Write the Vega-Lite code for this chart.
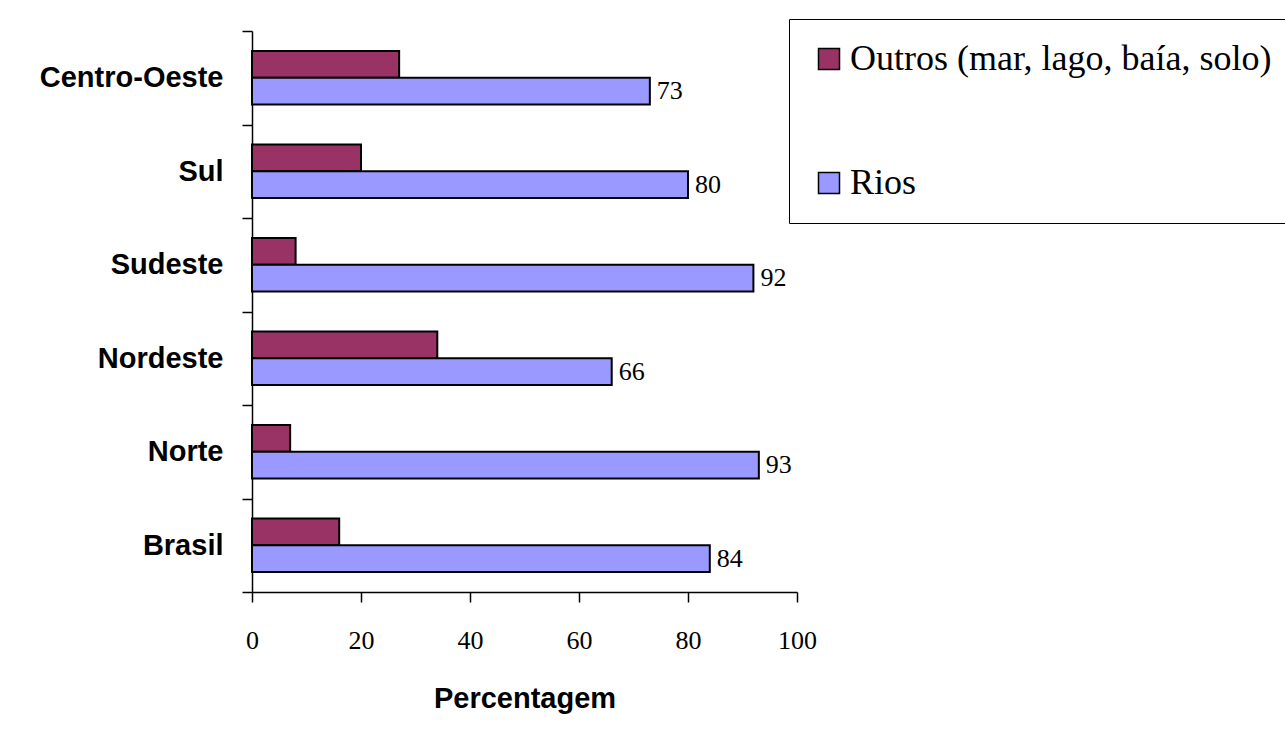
{
  "$schema": "https://vega.github.io/schema/vega-lite/v6.json",
  "width": 545,
  "height": 561,
  "autosize": "none",
  "padding": {"left": 252, "top": 31, "right": 488, "bottom": 146},
  "background": "white",
  "config": {"view": {"stroke": null}, "font": "Liberation Sans"},
  "data": {
    "values": [
      {"regiao": "Centro-Oeste", "fonte": "Outros (mar, lago, baía, solo)", "pct": 27},
      {"regiao": "Centro-Oeste", "fonte": "Rios", "pct": 73},
      {"regiao": "Sul", "fonte": "Outros (mar, lago, baía, solo)", "pct": 20},
      {"regiao": "Sul", "fonte": "Rios", "pct": 80},
      {"regiao": "Sudeste", "fonte": "Outros (mar, lago, baía, solo)", "pct": 8},
      {"regiao": "Sudeste", "fonte": "Rios", "pct": 92},
      {"regiao": "Nordeste", "fonte": "Outros (mar, lago, baía, solo)", "pct": 34},
      {"regiao": "Nordeste", "fonte": "Rios", "pct": 66},
      {"regiao": "Norte", "fonte": "Outros (mar, lago, baía, solo)", "pct": 7},
      {"regiao": "Norte", "fonte": "Rios", "pct": 93},
      {"regiao": "Brasil", "fonte": "Outros (mar, lago, baía, solo)", "pct": 16},
      {"regiao": "Brasil", "fonte": "Rios", "pct": 84}
    ]
  },
  "encoding": {
    "y": {
      "field": "regiao",
      "type": "nominal",
      "sort": ["Centro-Oeste", "Sul", "Sudeste", "Nordeste", "Norte", "Brasil"],
      "scale": {"paddingInner": 0, "paddingOuter": 0},
      "axis": {
        "title": null,
        "tickBand": "extent",
        "tickSize": 10,
        "tickColor": "black",
        "tickWidth": 1.5,
        "domainColor": "black",
        "domainWidth": 1.5,
        "labelFont": "Liberation Sans",
        "labelFontWeight": "bold",
        "labelFontSize": 29,
        "labelColor": "black",
        "labelPadding": 19,
        "labelLimit": 400
      }
    },
    "yOffset": {
      "field": "fonte",
      "type": "nominal",
      "sort": ["Outros (mar, lago, baía, solo)", "Rios"],
      "scale": {"paddingInner": 0, "paddingOuter": 0.75}
    },
    "x": {
      "field": "pct",
      "type": "quantitative",
      "scale": {"domain": [0, 100], "nice": false},
      "axis": {
        "title": "Percentagem",
        "values": [0, 20, 40, 60, 80, 100],
        "grid": false,
        "tickSize": 10,
        "tickColor": "black",
        "tickWidth": 1.5,
        "domainColor": "black",
        "domainWidth": 1.5,
        "labelFont": "Liberation Serif",
        "labelFontSize": 26,
        "labelColor": "black",
        "labelPadding": 25,
        "labelFlush": false,
        "labelOverlap": false,
        "titleFont": "Liberation Sans",
        "titleFontSize": 29,
        "titleFontWeight": "bold",
        "titleColor": "black",
        "titleBaseline": "alphabetic",
        "titleY": 115
      }
    }
  },
  "layer": [
    {
      "mark": {"type": "bar", "stroke": "black", "strokeWidth": 2},
      "encoding": {
        "color": {
          "field": "fonte",
          "type": "nominal",
          "scale": {"domain": ["Outros (mar, lago, baía, solo)", "Rios"], "range": ["#993366", "#9999FF"]},
          "legend": {
            "orient": "none",
            "legendX": 537,
            "legendY": -12,
            "title": null,
            "strokeColor": "black",
            "fillColor": "white",
            "padding": 22,
            "labelFont": "Liberation Serif",
            "labelFontSize": 36,
            "labelColor": "black",
            "labelLimit": 1000,
            "labelOffset": 3,
            "symbolType": "square",
            "symbolSize": 441,
            "symbolStrokeColor": "black",
            "symbolStrokeWidth": 1.5,
            "symbolOpacity": 1,
            "rowPadding": 88
          }
        }
      }
    },
    {
      "transform": [{"filter": "datum.fonte == 'Rios'"}],
      "mark": {"type": "text", "align": "left", "baseline": "middle", "dx": 7, "font": "Liberation Serif", "fontSize": 26, "color": "black"},
      "encoding": {"text": {"field": "pct", "type": "quantitative"}}
    }
  ]
}
